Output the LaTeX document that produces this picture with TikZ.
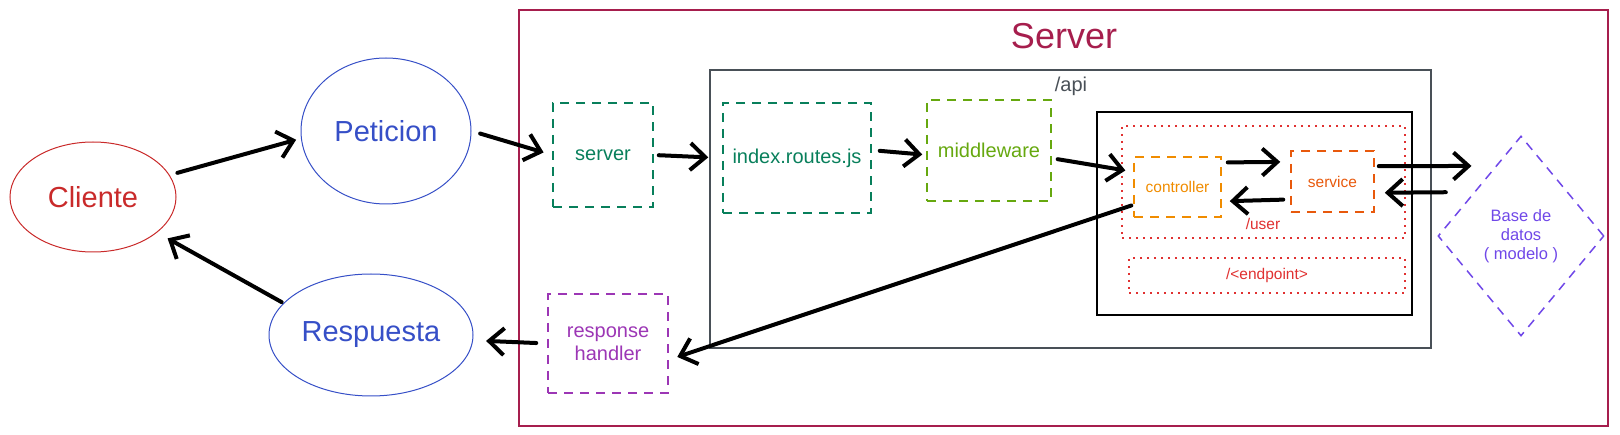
\documentclass[tikz,border=0pt]{standalone}
\usepackage{fontspec}
\setmainfont{Liberation Sans}
\usetikzlibrary{shapes.geometric, arrows.meta, positioning}
\definecolor{clientred}{HTML}{C92A2A}
\definecolor{msgblue}{HTML}{364FC7}
\definecolor{serverpink}{HTML}{A61E4D}
\definecolor{apigray}{HTML}{495057}
\definecolor{jsteal}{HTML}{087F5B}
\definecolor{midlime}{HTML}{66A80F}
\definecolor{ctrlorange}{HTML}{F08C00}
\definecolor{servorange}{HTML}{E8590C}
\definecolor{routered}{HTML}{E03131}
\definecolor{dbviolet}{HTML}{7048E8}
\definecolor{handlergrape}{HTML}{9C36B5}

\begin{document}
\begin{tikzpicture}[x=1pt, y=-1pt,
  actor/.style={ellipse, draw, line width=1pt, inner sep=0pt, font=\fontsize{29}{34}\selectfont},
  part/.style={draw, dash pattern=on 9pt off 7pt, line width=1.5pt, inner sep=0pt, align=center, font=\fontsize{20}{23}\selectfont},
  layer/.style={part, font=\fontsize{15.5}{18.6}\selectfont},
  route/.style={draw=routered, dash pattern=on 2pt off 5pt, line width=2pt, inner sep=0pt},
  flow/.style={-{Straight Barb[length=15pt, width=27pt]}, line width=4pt, line cap=round}
]
  \useasboundingbox (0,0) rectangle (1620,435);
  % frames
  \node[draw=serverpink, line width=2pt, minimum width=1089pt, minimum height=416pt, inner sep=0pt] (srvframe) at (1063.5,218) {};
  \node[text=serverpink, font=\fontsize{36}{40}\selectfont] (srvtitle) at (1064,36) {Server};
  \node[draw=apigray, line width=1.5pt, minimum width=721pt, minimum height=278pt, inner sep=0pt] (apiframe) at (1070.5,209) {};
  \node[text=apigray, font=\fontsize{20}{24}\selectfont] (apilabel) at (1071,86) {/api};
  \node[draw=black, line width=2pt, minimum width=315pt, minimum height=203pt, inner sep=0pt] (userframe) at (1254.5,213.5) {};
  \node[route, minimum width=283pt, minimum height=112pt] (userroute) at (1263.5,182) {};
  \node[text=routered, font=\fontsize{15.5}{18}\selectfont] (userlabel) at (1263,224) {/user};
  \node[route, minimum width=276pt, minimum height=35pt, text=routered, font=\fontsize{15.5}{18}\selectfont] (endpoint) at (1267,275.5) {/<endpoint>};

  % actors
  \node[actor, draw=clientred, text=clientred, minimum width=166pt, minimum height=110pt] (cliente) at (93,197) {Cliente};
  \node[actor, draw=msgblue, text=msgblue, minimum width=170pt, minimum height=146pt] (peticion) at (386,131) {Peticion};
  \node[actor, draw=msgblue, text=msgblue, minimum width=204pt, minimum height=122pt] (respuesta) at (371,335) {Respuesta};

  % parts
  \node[part, draw=jsteal, text=jsteal, minimum width=100pt, minimum height=104pt] (srvbox) at (603,155) {server};
  \node[part, draw=jsteal, text=jsteal, minimum width=148pt, minimum height=110pt] (index) at (797,158) {index.routes.js};
  \node[part, draw=midlime, text=midlime, minimum width=124pt, minimum height=101pt] (middleware) at (989,150.5) {middleware};
  \node[layer, draw=ctrlorange, text=ctrlorange, minimum width=87pt, minimum height=60pt] (controller) at (1177.5,187) {controller};
  \node[layer, draw=servorange, text=servorange, minimum width=83pt, minimum height=61pt] (service) at (1332.5,181.5) {service};
  \node[layer, diamond, draw=dbviolet, text=dbviolet, font=\fontsize{16.5}{19}\selectfont, minimum width=166pt, minimum height=200pt] (base) at (1521,236) {Base de\\datos\\( modelo )};
  \node[part, draw=handlergrape, text=handlergrape, minimum width=120pt, minimum height=99pt] (handler) at (608,343.5) {response\\handler};

  % flows
  \draw[flow, shorten <=8pt, shorten >=5pt] (cliente.16) -- (peticion.185);
  \draw[flow, shorten <=9pt, shorten >=9pt] (peticion.0) -- (srvbox.west);
  \draw[flow, shorten <=5pt, shorten >=14pt] (srvbox.east) -- (index.west);
  \draw[flow, shorten <=8pt, shorten >=4pt] (index.6) -- (middleware.184);
  \draw[flow, shorten <=6pt, shorten >=8pt] (middleware.-7) -- (controller.161);
  \draw[flow, shorten <=6pt, shorten >=10pt] (controller.29) -- (service.155);
  \draw[flow, shorten <=7pt, shorten >=8pt] (service.203) -- (controller.-18);
  \draw[flow, shorten <=4pt, shorten >=24pt] (service.20.5) -- (base.110.6);
  \draw[flow, shorten <=28pt, shorten >=10pt] (base.137.5) -- (service.-15.5);
  \draw[flow, shorten <=2pt, shorten >=9pt] (controller.202.5) -- (handler.-15);
  \draw[flow, shorten <=11pt, shorten >=13pt] (handler.west) -- (respuesta.-3);
  \draw[flow, shorten <=2pt, shorten >=12pt] (respuesta.160) -- (cliente.-29);
\end{tikzpicture}
\end{document}
